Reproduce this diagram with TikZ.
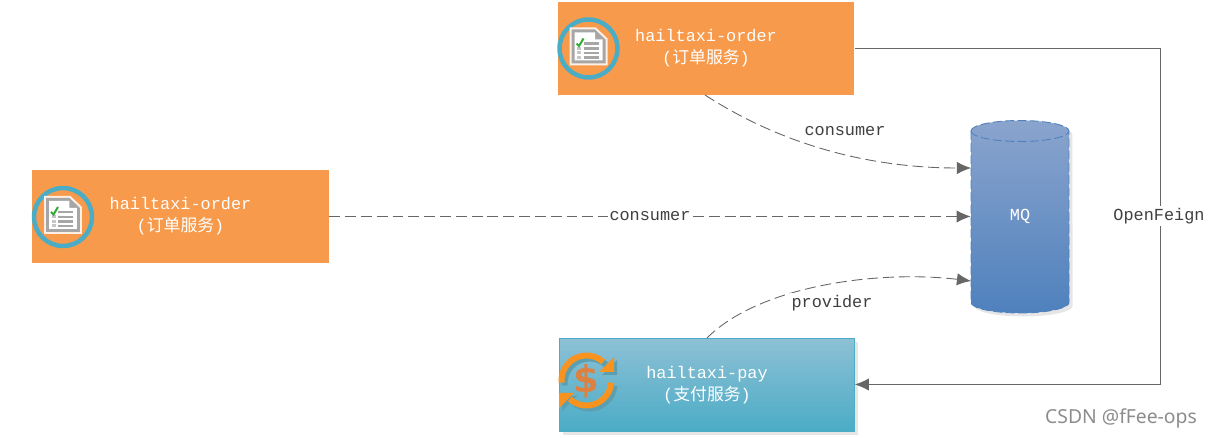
\documentclass[tikz,border=0pt]{standalone}
\usepackage{fontspec}
\setmonofont{Liberation Mono}
\newfontfamily\cjkfont{Noto Sans CJK SC}
\newfontfamily\markfont{Noto Sans}
\newfontfamily\dollarfont{DejaVu Sans}
\usetikzlibrary{arrows.meta,shadows}
\newcommand{\zh}[1]{{\cjkfont #1}}
\definecolor{ringBlue}{HTML}{4BACC6}
\definecolor{boxOrange}{HTML}{F79A4B}
\definecolor{iconOrange}{HTML}{F7931E}
\definecolor{dollarOrange}{HTML}{DC8140}
\definecolor{lineGray}{HTML}{666666}
\definecolor{payTop}{HTML}{8DC0D5}
\definecolor{mqTop}{HTML}{8AA4CD}
\definecolor{mqBottom}{HTML}{4F81BD}
\tikzset{
  pics/docIcon/.style={code={
    \draw[line width=0.09cm, draw=ringBlue] (0,0) circle (0.58cm);
    \fill[white!85!boxOrange] (-0.38cm,0.42cm) -- (0.15cm,0.42cm) -- (0.38cm,0.2cm) -- (0.38cm,-0.34cm) -- (-0.38cm,-0.34cm) -- cycle;
    \fill[gray!70] (-0.34cm,0.38cm) -- (0.13cm,0.38cm) -- (0.34cm,0.18cm) -- (0.34cm,-0.3cm) -- (-0.34cm,-0.3cm) -- cycle;
    \fill[white] (-0.28cm,0.32cm) -- (0.13cm,0.32cm) -- (0.13cm,0.18cm) -- (0.28cm,0.18cm) -- (0.28cm,-0.24cm) -- (-0.28cm,-0.24cm) -- cycle;
    \foreach \yy in {0.1,0,-0.09,-0.18}
      \draw[line width=0.05cm, gray!70] (-0.1cm,\yy cm) -- (0.2cm,\yy cm);
    \foreach \yy in {0,-0.09,-0.18}
      \fill[gray!45] (-0.23cm,\yy cm-0.03cm) rectangle (-0.15cm,\yy cm+0.03cm);
    \draw[line width=0.04cm, green!60!black!80!white] (-0.24cm,0.1cm) -- (-0.19cm,0.05cm) -- (-0.1cm,0.2cm);
  }}
}
\begin{document}
\begin{tikzpicture}
        [x=0.02cm, y=-0.02cm,
        orderBox/.style={rectangle, minimum width=5.94cm, minimum height=1.87cm, fill=boxOrange, text=white, align=center, inner sep=0pt, font=\ttfamily\fontsize{9.6pt}{12.5pt}\selectfont},
        payBox/.style={orderBox, minimum width=5.9cm, minimum height=1.85cm, fill=none, draw=ringBlue, line width=0.4pt, top color=payTop, bottom color=ringBlue, drop shadow={shadow xshift=0.07cm, shadow yshift=-0.07cm, fill=gray, opacity=0.2}},
        queueBody/.style={draw=mqBottom, line width=0.5pt, dash pattern=on 5pt off 2pt, top color=mqTop, bottom color=mqBottom, drop shadow={shadow xshift=0.07cm, shadow yshift=-0.07cm, fill=gray, opacity=0.2}},
        queue/.style={rectangle, minimum width=1.96cm, minimum height=3.86cm, inner sep=0pt, text=white, font=\ttfamily\fontsize{9.6pt}{12pt}\selectfont},
        link/.style={draw=lineGray, line width=0.5pt, -{Latex[length=8pt,width=7pt]}},
        dashLink/.style={link, dash pattern=on 6.2pt off 2.8pt},
        tag/.style={fill=white, inner sep=1pt, text=black!75, font=\ttfamily\fontsize{9.6pt}{12pt}\selectfont}]
        \useasboundingbox (0,0) rectangle (1211,438);

        \node[orderBox] (orderTop) at (706,48.5) {hailtaxi-order\\(\zh{订单服务})};
        \node[orderBox] (orderLeft) at (180.5,216.5) {hailtaxi-order\\(\zh{订单服务})};
        \node[payBox] (pay) at (707,385) {hailtaxi-pay\\(\zh{支付服务})};

        \path[queueBody] (971,131) arc[start angle=180, end angle=0, x radius=0.98cm, y radius=0.21cm] -- (1069,302.5) arc[start angle=0, end angle=-180, x radius=0.98cm, y radius=0.21cm] -- cycle;
        \draw[mqBottom, line width=0.5pt, dash pattern=on 5pt off 2pt] (971,131) arc[start angle=180, end angle=360, x radius=0.98cm, y radius=0.21cm];
        \node[queue] (MQ) at (1020,216.5) {MQ};

        \pic at (588.5,48.5) {docIcon};
        \pic at (63,217) {docIcon};

        % pay icon
        \foreach \col/\dx/\dy in {ringBlue!70!gray/3/3, iconOrange/0/0} {
            \draw[line width=0.12cm, draw=\col] (586.5+\dx,380.5+\dy) ++(185:0.5cm) arc (185:48:0.5cm);
            \draw[line width=0.12cm, draw=\col] (586.5+\dx,380.5+\dy) ++(-5:0.5cm) arc (-5:-132:0.5cm);
            \fill[\col] (599+\dx,372+\dy) -- (614+\dx,372+\dy) -- (614+\dx,357+\dy) -- cycle;
            \fill[\col] (559+\dx,393+\dy) -- (574+\dx,393+\dy) -- (559+\dx,408+\dy) -- cycle;
        }
        \node[text=dollarOrange, inner sep=0pt, font=\dollarfont\bfseries\fontsize{21pt}{21pt}\selectfont] (dollar) at (586.5,381.5) {\$};

        \coordinate (mqUpper) at (971,168);
        \coordinate (mqLower) at (971,281);
        \coordinate (orderCurve) at (705,95);
        \coordinate (payCurve) at (707,338);
        \coordinate (feignTop) at (1160.5,48.5);
        \coordinate (feignBottom) at (1160.5,384.5);

        \draw[dashLink] (orderCurve) .. controls (790,150) and (880,168) .. (mqUpper);
        \draw[dashLink] (orderLeft.east) -- (MQ.west) node[tag, pos=0.5] (tagLeft) {consumer};
        \draw[dashLink] (payCurve) .. controls (760,285) and (880,270) .. (mqLower);
        \draw[link] (orderTop.east |- feignTop) -- (feignTop) -- (feignBottom) -- (pay.east |- feignBottom);

        \node[tag] (tagTop) at (845,131) {consumer};
        \node[tag] (tagPay) at (832,303) {provider};
        \node[tag] (tagFeign) at (1159,216) {OpenFeign};
        \node[text=black!45, inner sep=0pt, font=\markfont\fontsize{11pt}{12pt}\selectfont] (mark) at (1121,418) {CSDN @fFee-ops};
    \end{tikzpicture}
\end{document}
